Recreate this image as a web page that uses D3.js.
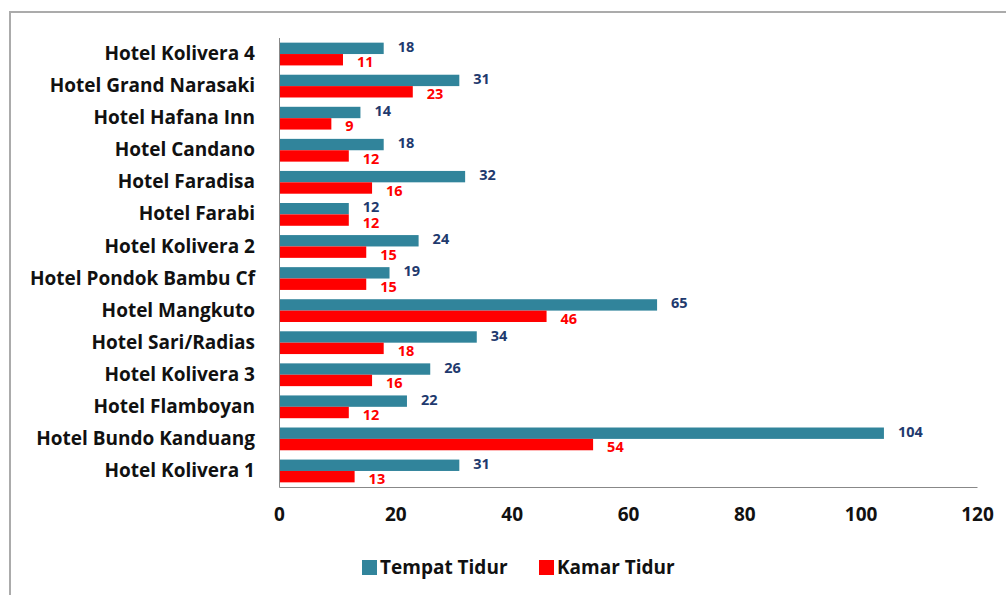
<!DOCTYPE html>
<html><head><meta charset="utf-8">
<script src="https://cdn.jsdelivr.net/npm/d3@7"></script>
<style>body{margin:0;background:#fff}svg{display:block}</style>
</head><body>
<svg id="c" width="1006" height="595"></svg>
<script>
const categories = ["Hotel Kolivera 4","Hotel Grand Narasaki","Hotel Hafana Inn","Hotel Candano","Hotel Faradisa","Hotel Farabi","Hotel Kolivera 2","Hotel Pondok Bambu Cf","Hotel Mangkuto","Hotel Sari/Radias","Hotel Kolivera 3","Hotel Flamboyan","Hotel Bundo Kanduang","Hotel Kolivera 1"];
const tempatTidur = [18,31,14,18,32,12,24,19,65,34,26,22,104,31];
const kamarTidur  = [11,23,9,12,16,12,15,15,46,18,16,12,54,13];
const seriesNames = ["Tempat Tidur","Kamar Tidur"];
const xTicks = [0,20,40,60,80,100,120];

const svg = d3.select("#c");
const font = "'Open Sans', Lato, sans-serif";
const colors = ["#31849B","#FF0000"];
const labelColors = ["#1F3A6E","#FF0000"];

// frame
svg.append("rect").attr("x",10).attr("y",12).attr("width",1010).attr("height",600)
  .attr("fill","none").attr("stroke","#ababab").attr("stroke-width",2);

const x = d3.scaleLinear().domain([0,120]).range([279,977]);
const y = d3.scaleBand().domain(categories).range([38,487]).paddingInner(0.29).paddingOuter(0.145);
const sub = d3.scaleBand().domain(seriesNames).range([0,y.bandwidth()]);

const series = [tempatTidur, kamarTidur];
series.forEach((vals,si)=>{
  const g = svg.append("g");
  g.selectAll("rect").data(vals).enter().append("rect")
    .attr("x",x(0)).attr("y",(d,i)=>y(categories[i])+sub(seriesNames[si]))
    .attr("width",d=>x(d)-x(0)).attr("height",sub.bandwidth())
    .attr("fill",colors[si]);
  g.selectAll("text").data(vals).enter().append("text")
    .attr("x",d=>x(d)+14).attr("y",(d,i)=>y(categories[i])+sub(seriesNames[si])+sub.bandwidth()/2 + (si===0?-1.5:2.5))
    .attr("dy","0.35em").attr("fill",labelColors[si])
    .attr("font-family",font).attr("font-weight","bold").attr("font-size",14.5)
    .text(d=>d);
});

// y axis
const yAxis = svg.append("g").attr("transform",`translate(${x(0)},0)`).call(d3.axisLeft(y).tickSize(0).tickPadding(24));
yAxis.select(".domain").attr("stroke","#888").attr("d","M0.5,38V487.5");
yAxis.selectAll("text").attr("font-family",font).attr("font-weight","bold").attr("font-size",19).attr("fill","#111");

// x axis
const xAxis = svg.append("g").attr("transform","translate(0,487)").call(d3.axisBottom(x).tickValues(xTicks).tickSize(0).tickPadding(21));
xAxis.select(".domain").attr("stroke","#888");
xAxis.selectAll("text").attr("font-family",font).attr("font-weight","bold").attr("font-size",19).attr("fill","#111");

// legend
const leg = svg.append("g");
const legX = [362,539];
seriesNames.forEach((n,i)=>{
  leg.append("rect").attr("x",legX[i]).attr("y",560).attr("width",15).attr("height",15).attr("fill",colors[i]);
  leg.append("text").attr("x",legX[i]+18).attr("y",567.5).attr("dy","0.35em")
    .attr("font-family",font).attr("font-weight","bold").attr("font-size",19).attr("fill","#111").text(n);
});
</script>
</body></html>
